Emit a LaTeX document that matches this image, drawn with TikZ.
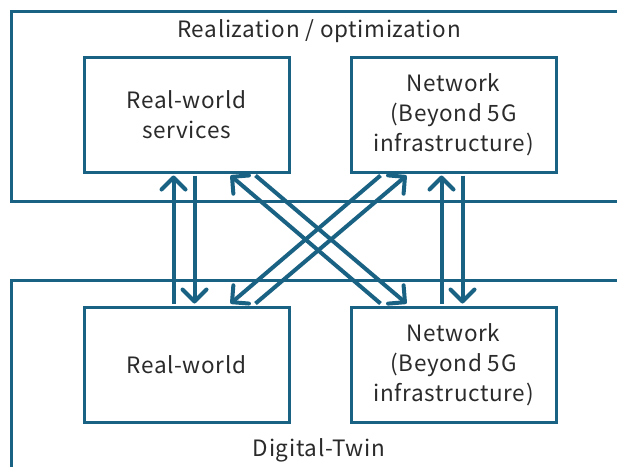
\documentclass[tikz,border=0pt]{standalone}
\usepackage{fontspec}
\setmainfont{Noto Sans CJK JP}[LetterSpace=3]
\usetikzlibrary{arrows.meta,calc}
\definecolor{teal}{HTML}{1A6283}
\definecolor{txt}{HTML}{2A2A2A}
\begin{document}
\begin{tikzpicture}[x=1pt,y=-1pt,
  inner/.style={draw=teal,line width=3pt,minimum width=205pt,minimum height=115pt,inner sep=0pt,
    align=center,text=txt,font=\fontsize{22.5}{30}\selectfont},
  outer/.style={draw=teal,line width=3pt},
  lbl/.style={text=txt,font=\fontsize{22.5}{25}\selectfont,inner sep=0pt},
  arr/.style={draw=teal,line width=4pt,-{Straight Barb[length=12pt,width=24pt,line width=4pt,round]}}]
\useasboundingbox (0,0) rectangle (617,466);
\begin{scope}
\clip (0,0) rectangle (617,466);
\draw[outer] (11,11) rectangle (640,201);
\draw[outer] (11,280) rectangle (640,490);
\end{scope}
\node[lbl] (top) at (319,31) {Realization / optimization};
\node[lbl] (bot) at (319,450) {Digital-Twin};
\node[inner] (svc) at (186.5,114.5) {Real-world\\services};
\node[inner] (nett) at (453.5,114.5) {Network\\(Beyond 5G\\infrastructure)};
\node[inner] (rw) at (186.5,364.5) {Real-world};
\node[inner] (netb) at (453.5,364.5) {Network\\(Beyond 5G\\infrastructure)};
% left verticals
\draw[arr] ($(rw.north west)+(91,-2)$) -- ($(svc.south west)+(91,2)$);
\draw[arr] ($(svc.south west)+(112,2)$) -- ($(rw.north west)+(112,-2)$);
% right verticals
\draw[arr] ($(netb.north west)+(92,-2)$) -- ($(nett.south west)+(92,2)$);
\draw[arr] ($(nett.south west)+(113,2)$) -- ($(netb.north west)+(113,-2)$);
% diagonals
\draw[arr] ($(svc.south west)+(173,2)$) -- ($(netb.north west)+(57,-2)$);
\draw[arr] ($(netb.north west)+(31,-2)$) -- ($(svc.south west)+(148,2)$);
\draw[arr] ($(rw.north west)+(173,-2)$) -- ($(nett.south west)+(57,2)$);
\draw[arr] ($(nett.south west)+(31,2)$) -- ($(rw.north west)+(148,-2)$);
\end{tikzpicture}
\end{document}
